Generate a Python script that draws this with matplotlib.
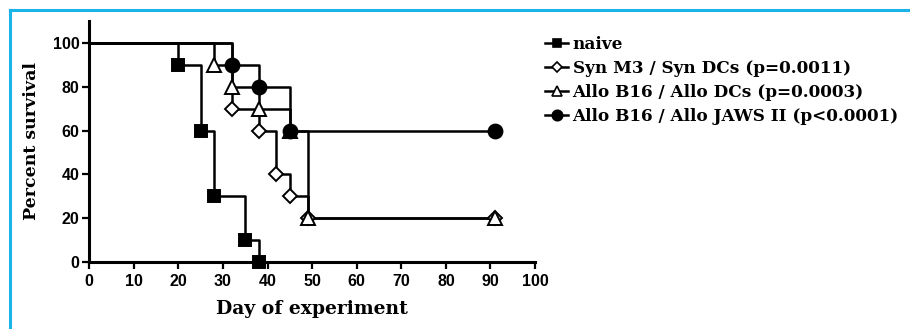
import matplotlib.pyplot as plt
from matplotlib.lines import Line2D

# survival data (day, percent surviving); last point of the treated groups is censored
naive_days = [0, 20, 25, 28, 35, 38]
naive_surv = [100, 90, 60, 30, 10, 0]
syn_days = [0, 32, 38, 42, 45, 49, 91]
syn_surv = [100, 70, 60, 40, 30, 20, 20]
allo_days = [0, 28, 32, 38, 45, 49, 91]
allo_surv = [100, 90, 80, 70, 60, 20, 20]
jaws_days = [0, 32, 38, 45, 91]
jaws_surv = [100, 90, 80, 60, 60]
labels = ["naive", "Syn M3 / Syn DCs (p=0.0011)", "Allo B16 / Allo DCs (p=0.0003)",
          "Allo B16 / Allo JAWS II (p<0.0001)"]

fig = plt.figure(figsize=(9.1, 3.29), dpi=100)
ax = fig.add_axes([0.098, 0.204, 0.49, 0.732])

styles = [
    dict(marker="s", mfc="black", ms=8.5),
    dict(marker="D", mfc="white", ms=7),
    dict(marker="^", mfc="white", ms=9.5),
    dict(marker="o", mfc="black", ms=10),
]
series = [(naive_days, naive_surv), (syn_days, syn_surv), (allo_days, allo_surv), (jaws_days, jaws_surv)]
handles = []
for (d, s), st, lab in zip(series, styles, labels):
    ax.step(d, s, where="post", color="black", lw=1.8, clip_on=False, zorder=2)
    ax.plot(d[1:], s[1:], ls="none", marker=st["marker"], mfc=st["mfc"], mec="black",
            mew=1.4, ms=st["ms"], clip_on=False, zorder=3)
    handles.append(Line2D([], [], color="black", lw=1.8, marker=st["marker"], mfc=st["mfc"],
                          mec="black", mew=1.2, ms=st["ms"] * 0.75, label=lab))

ax.set_xlim(0, 100)
ax.set_ylim(0, 110)
ax.set_xticks(range(0, 101, 10))
ax.set_yticks(range(0, 101, 20))
for side in ["top", "right"]:
    ax.spines[side].set_visible(False)
for side in ["left", "bottom"]:
    ax.spines[side].set_linewidth(2.2)
ax.tick_params(direction="out", length=5, width=1.6, pad=2)
ax.tick_params(axis="x", pad=4)
for t in ax.get_xticklabels() + ax.get_yticklabels():
    t.set_fontfamily("Liberation Sans")
    t.set_fontweight("bold")
    t.set_fontsize(11.5)

ax.set_xlabel("Day of experiment", fontfamily="DejaVu Serif", fontweight="bold", fontsize=13.5, labelpad=8)
ax.set_ylabel("Percent survival", fontfamily="DejaVu Serif", fontweight="bold", fontsize=12.5, labelpad=9)

fig.legend(handles=handles, loc="upper left", bbox_to_anchor=(0.592, 0.91), frameon=False,
           prop=dict(family="DejaVu Serif", weight="bold", size=12.2), handlelength=1.3,
           handletextpad=0.3, labelspacing=0.4, borderaxespad=0)

# light blue frame along the top and left edge
fig.add_artist(Line2D([9.5 / 910, 1], [1 - 9.5 / 329] * 2, color="#1ab4ea", lw=2.2, transform=fig.transFigure))
fig.add_artist(Line2D([9.5 / 910] * 2, [0, 1 - 9.5 / 329], color="#1ab4ea", lw=2.2, transform=fig.transFigure))

fig.savefig("out.png", dpi=100)
